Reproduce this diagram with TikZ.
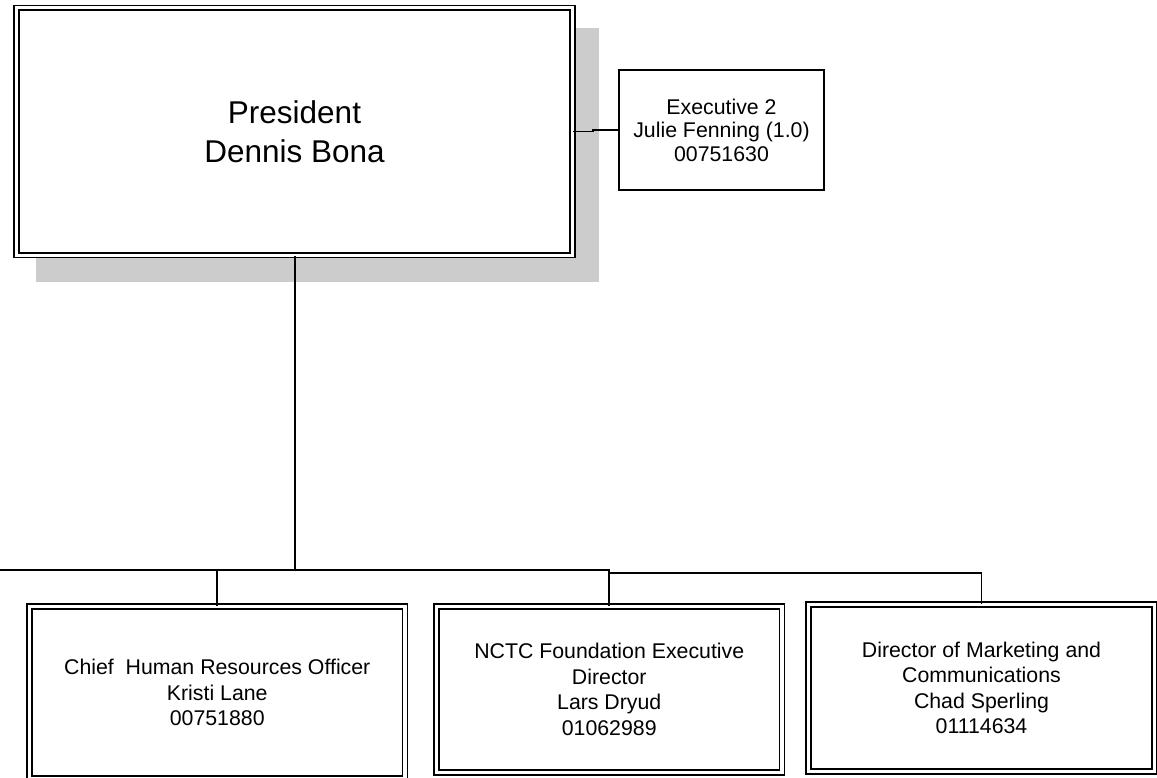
\documentclass[tikz,border=0pt]{standalone}
\usepackage{fontspec}
\setmainfont{Liberation Sans}
\begin{document}
\begin{tikzpicture}[x=1pt,y=-1pt,
  dbox/.style={draw=black, double=white, double distance=3.1pt, line width=1.6pt, fill=white, inner sep=0pt, align=center, font=\fontsize{21.3}{25.5}\selectfont},
  sbox/.style={draw=black, line width=1.4pt, fill=white, inner sep=0pt, align=center, font=\fontsize{21.3}{23.5}\selectfont},
  conn/.style={draw=black, line width=1.6pt},
  shadowfill/.style={fill=black!20, draw=none}]
\useasboundingbox (0,0) rectangle (1157,778);
\begin{scope}
\clip (0,0) rectangle (1157,778);
% shadow of president box
\path[shadowfill] (36,28) rectangle (599,282);
% president
\node[dbox, minimum width=556pt, minimum height=247.4pt, font=\fontsize{31.5}{39}\selectfont] (pres) at (294.5,131.6) {President\\Dennis Bona};
% executive
\node[sbox, minimum width=205pt, minimum height=120pt] (exec) at (721.5,130) {Executive 2\\Julie Fenning (1.0)\\00751630};
% bottom boxes
\node[dbox, minimum width=375.5pt, minimum height=172pt] (hr) at (217.25,692.5) {Chief\ \ Human Resources Officer\\Kristi Lane\\00751880};
\node[dbox, minimum width=345.5pt, minimum height=166pt] (nctc) at (609.25,689.5) {NCTC Foundation Executive\\Director\\Lars Dryud\\01062989};
\node[dbox, minimum width=346pt, minimum height=167pt] (mkt) at (981.5,688) {Director of Marketing and\\Communications\\Chad Sperling\\01114634};
% connectors
\coordinate (ej) at (593,131.6);
\coordinate (ej2) at (593,130);
\draw[conn] (pres.east) -- (ej) -- (ej2) -- (exec.west);
\coordinate (j0) at (295,570);
\coordinate (lft) at (0,570);
\coordinate (j2) at (609.25,570);
\coordinate (j2b) at (609.25,573);
\coordinate (j3) at (981.5,573);
\draw[conn, line width=2.2pt] (pres.south -| j0) -- (j0);
\draw[conn] (lft) -- (j0) -- (j2) -- (nctc.north);
\draw[conn] (hr.north) -- (hr.north |- j0);
\draw[conn] (j2) -- (j2b) -- (j3) -- (mkt.north);
\end{scope}
\end{tikzpicture}
\end{document}
